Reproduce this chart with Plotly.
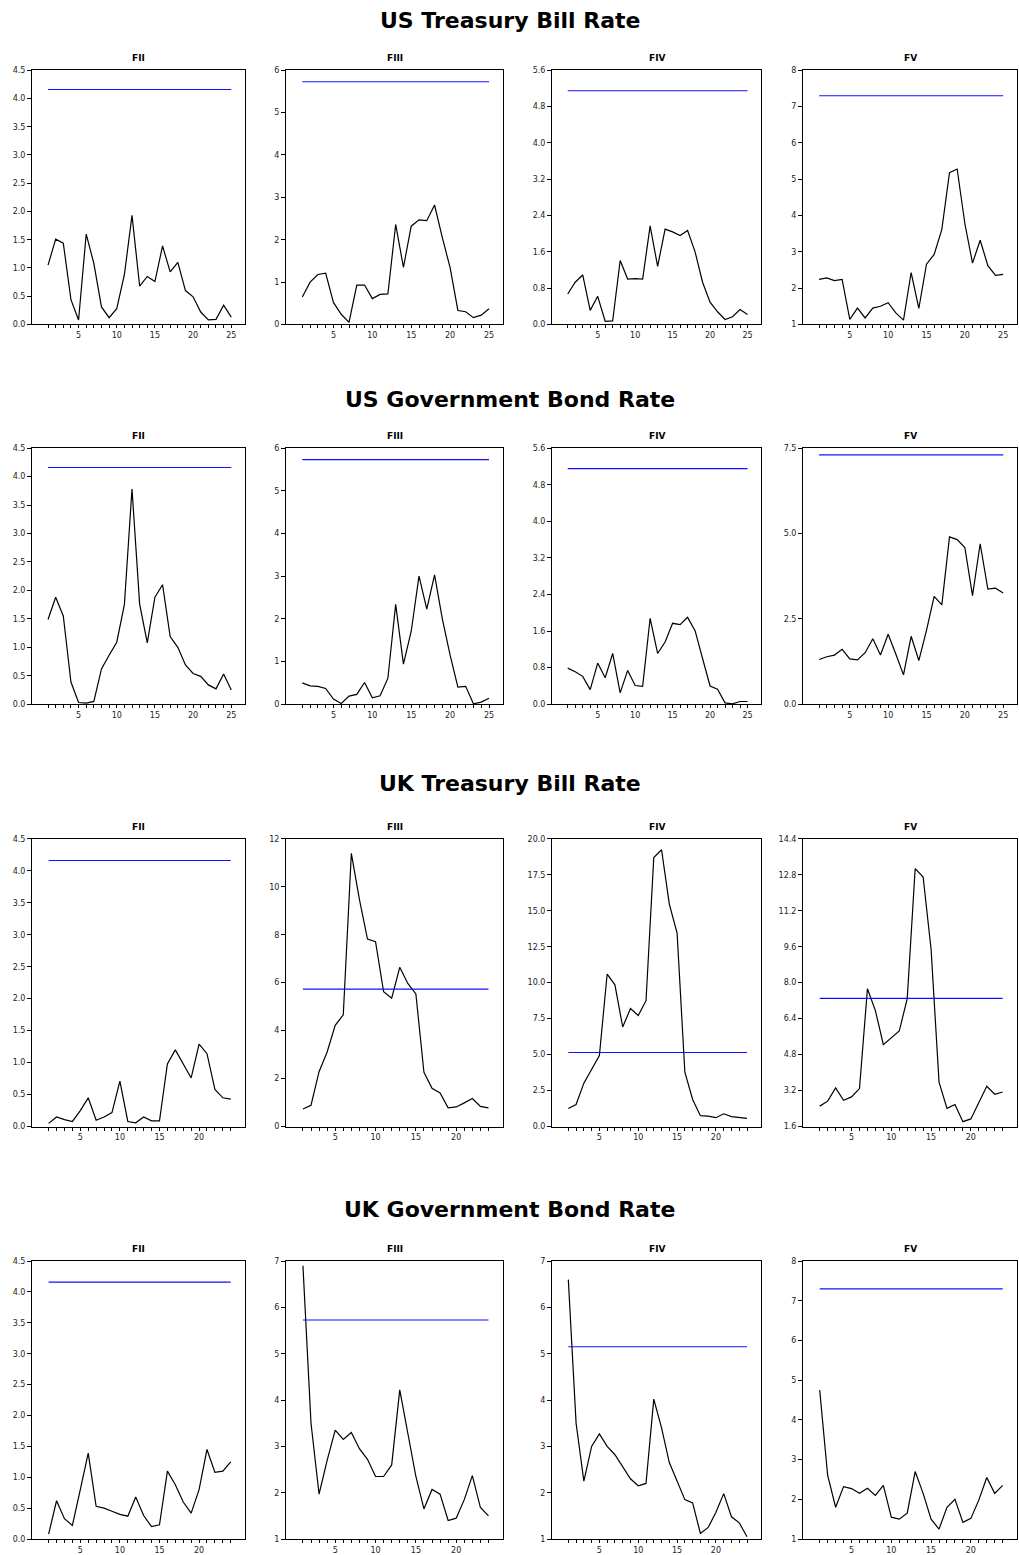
import plotly.graph_objects as go

sections = ["US Treasury Bill Rate", "US Government Bond Rate", "UK Treasury Bill Rate", "UK Government Bond Rate"]
panels = ["FII", "FIII", "FIV", "FV"]
thresholds = [4.16, 5.73, 5.15, 7.3]

us_tb_fii = [1.05, 1.51, 1.44, 0.44, 0.08, 1.60, 1.08, 0.31, 0.12, 0.28, 0.88, 1.93, 0.68, 0.85, 0.76, 1.39, 0.93, 1.10, 0.60, 0.49, 0.22, 0.08, 0.09, 0.34, 0.13]
us_tb_fiii = [0.65, 1.00, 1.18, 1.21, 0.52, 0.24, 0.05, 0.93, 0.93, 0.61, 0.71, 0.72, 2.36, 1.35, 2.32, 2.47, 2.45, 2.82, 2.05, 1.34, 0.33, 0.30, 0.16, 0.22, 0.37]
us_tb_fiv = [0.67, 0.93, 1.09, 0.31, 0.62, 0.07, 0.08, 1.41, 1.00, 1.01, 1.00, 2.17, 1.28, 2.10, 2.04, 1.96, 2.07, 1.60, 0.93, 0.49, 0.28, 0.11, 0.17, 0.33, 0.22]
us_tb_fv = [2.24, 2.28, 2.21, 2.24, 1.14, 1.45, 1.18, 1.45, 1.50, 1.60, 1.32, 1.12, 2.43, 1.44, 2.66, 2.93, 3.62, 5.18, 5.28, 3.78, 2.69, 3.32, 2.62, 2.35, 2.38]

us_gb_fii = [1.49, 1.88, 1.55, 0.39, 0.03, 0.02, 0.05, 0.62, 0.86, 1.09, 1.75, 3.78, 1.76, 1.08, 1.88, 2.10, 1.19, 1.00, 0.69, 0.54, 0.49, 0.34, 0.27, 0.53, 0.25]
us_gb_fiii = [0.50, 0.43, 0.42, 0.37, 0.12, 0.02, 0.19, 0.23, 0.51, 0.15, 0.20, 0.61, 2.34, 0.94, 1.71, 3.00, 2.23, 3.03, 2.00, 1.15, 0.40, 0.42, 0.01, 0.05, 0.14]
us_gb_fiv = [0.79, 0.71, 0.61, 0.32, 0.90, 0.58, 1.11, 0.25, 0.74, 0.41, 0.39, 1.88, 1.11, 1.36, 1.77, 1.74, 1.90, 1.61, 1.00, 0.40, 0.33, 0.03, 0.01, 0.06, 0.06]
us_gb_fv = [1.31, 1.39, 1.44, 1.61, 1.33, 1.30, 1.51, 1.92, 1.44, 2.05, 1.47, 0.86, 1.99, 1.28, 2.16, 3.16, 2.91, 4.90, 4.82, 4.59, 3.18, 4.70, 3.37, 3.40, 3.26]

uk_tb_fii = [0.05, 0.15, 0.11, 0.08, 0.25, 0.45, 0.10, 0.15, 0.22, 0.71, 0.08, 0.06, 0.15, 0.09, 0.09, 0.98, 1.20, 0.98, 0.76, 1.29, 1.14, 0.58, 0.45, 0.43]
uk_tb_fiii = [0.73, 0.89, 2.29, 3.11, 4.22, 4.66, 11.39, 9.47, 7.82, 7.71, 5.62, 5.35, 6.64, 5.97, 5.53, 2.26, 1.60, 1.40, 0.78, 0.82, 0.99, 1.17, 0.84, 0.78]
uk_tb_fiv = [1.26, 1.53, 3.02, 3.94, 4.93, 10.6, 9.85, 6.92, 8.20, 7.72, 8.75, 18.7, 19.24, 15.46, 13.45, 3.78, 1.88, 0.76, 0.73, 0.62, 0.89, 0.69, 0.62, 0.57]
uk_tb_fv = [2.51, 2.73, 3.32, 2.77, 2.92, 3.29, 7.73, 6.76, 5.24, 5.53, 5.85, 7.29, 13.07, 12.70, 9.49, 3.58, 2.41, 2.58, 1.82, 1.94, 2.63, 3.39, 3.04, 3.14]

uk_gb_fii = [0.08, 0.62, 0.33, 0.22, 0.80, 1.39, 0.53, 0.50, 0.45, 0.40, 0.37, 0.68, 0.38, 0.20, 0.23, 1.10, 0.88, 0.60, 0.42, 0.80, 1.45, 1.08, 1.10, 1.25]
uk_gb_fiii = [6.90, 3.50, 1.97, 2.70, 3.35, 3.15, 3.30, 2.95, 2.72, 2.35, 2.35, 2.60, 4.22, 3.30, 2.35, 1.65, 2.07, 1.97, 1.40, 1.45, 1.85, 2.37, 1.68, 1.50]
uk_gb_fiv = [6.60, 3.50, 2.25, 3.00, 3.27, 3.00, 2.82, 2.55, 2.30, 2.15, 2.20, 4.02, 3.40, 2.65, 2.25, 1.85, 1.78, 1.12, 1.25, 1.58, 1.98, 1.48, 1.35, 1.05]
uk_gb_fv = [4.75, 2.60, 1.80, 2.32, 2.27, 2.15, 2.28, 2.10, 2.35, 1.55, 1.50, 1.65, 2.70, 2.15, 1.50, 1.25, 1.80, 2.00, 1.42, 1.52, 1.98, 2.55, 2.15, 2.35]

series = [
    [us_tb_fii, us_tb_fiii, us_tb_fiv, us_tb_fv],
    [us_gb_fii, us_gb_fiii, us_gb_fiv, us_gb_fv],
    [uk_tb_fii, uk_tb_fiii, uk_tb_fiv, uk_tb_fv],
    [uk_gb_fii, uk_gb_fiii, uk_gb_fiv, uk_gb_fv],
]

# y-axis ranges and tick steps
y_ranges = [
    [(0, 4.5, 0.5, "%.1f"), (0, 6, 1, "%d"), (0, 5.6, 0.8, "%.1f"), (1, 8, 1, "%d")],
    [(0, 4.5, 0.5, "%.1f"), (0, 6, 1, "%d"), (0, 5.6, 0.8, "%.1f"), (0, 7.5, 2.5, "%.1f")],
    [(0, 4.5, 0.5, "%.1f"), (0, 12, 2, "%d"), (0, 20, 2.5, "%.1f"), (1.6, 14.4, 1.6, "%.1f")],
    [(0, 4.5, 0.5, "%.1f"), (1, 7, 1, "%d"), (1, 7, 1, "%d"), (1, 8, 1, "%d")],
]

W, H = 1019, 1555
col_px = [(32, 245), (286, 503), (552, 761), (803, 1017)]
row_px = [(67, 324), (449, 708), (844, 1135), (1271, 1552)]
section_y = [17, 400, 788, 1219]

fig = go.Figure()
annotations = []
layout = {}
TICKFONT = dict(family="DejaVu Sans, sans-serif", size=8, color="#222")

k = 0
for r in range(4):
    annotations.append(dict(text="<b>%s</b>" % sections[r], x=0.5, y=1 - section_y[r] / H,
                            xref="paper", yref="paper", showarrow=False,
                            font=dict(family="DejaVu Sans, sans-serif", size=22, color="#000"),
                            xanchor="center", yanchor="middle"))
    for c in range(4):
        k += 1
        vals = series[r][c]
        n = len(vals)
        xs = list(range(1, n + 1))
        xa = "x" if k == 1 else "x%d" % k
        ya = "y" if k == 1 else "y%d" % k
        fig.add_trace(go.Scatter(x=xs, y=vals, mode="lines", line=dict(color="black", width=1.2),
                                 xaxis=xa, yaxis=ya, showlegend=False, hoverinfo="skip"))
        fig.add_trace(go.Scatter(x=[1, n], y=[thresholds[c]] * 2, mode="lines",
                                 line=dict(color="#1010ff", width=1.1),
                                 xaxis=xa, yaxis=ya, showlegend=False, hoverinfo="skip"))
        x0, x1 = col_px[c]
        y0, y1 = row_px[r]
        lo, hi, step, fmt = y_ranges[r][c]
        nt = int(round((hi - lo) / step))
        yticks = [lo + i * step for i in range(nt + 1)]
        suffix = "" if k == 1 else str(k)
        layout["xaxis" + suffix] = dict(
            domain=[x0 / W, x1 / W], anchor=ya, range=[-1.1, n + 1.8],
            tickvals=xs, ticktext=[str(i) if i % 5 == 0 else "" for i in xs],
            ticks="outside", ticklen=3, tickwidth=1, tickcolor="#000",
            showline=True, linecolor="#000", linewidth=1, mirror=True,
            showgrid=False, zeroline=False, tickfont=TICKFONT, fixedrange=True,
        )
        layout["yaxis" + suffix] = dict(
            domain=[1 - y1 / H, 1 - y0 / H], anchor=xa, range=[lo, hi],
            tickvals=yticks, ticktext=[fmt % v for v in yticks],
            ticks="outside", ticklen=4, tickwidth=1, tickcolor="#000",
            showline=True, linecolor="#000", linewidth=1, mirror=True,
            showgrid=False, zeroline=False, tickfont=TICKFONT, fixedrange=True,
        )
        annotations.append(dict(text="<b>%s</b>" % panels[c], x=(x0 + x1) / 2 / W, y=1 - (y0 - 12) / H,
                                xref="paper", yref="paper", showarrow=False,
                                font=dict(family="DejaVu Sans, sans-serif", size=9, color="#000"),
                                xanchor="center", yanchor="middle"))

fig.update_layout(width=W, height=H, margin=dict(l=0, r=0, t=0, b=0),
                  paper_bgcolor="white", plot_bgcolor="white",
                  annotations=annotations, **layout)

fig.write_html("out.html", config={"displayModeBar": False},
               post_script="document.body.style.margin='0';")
